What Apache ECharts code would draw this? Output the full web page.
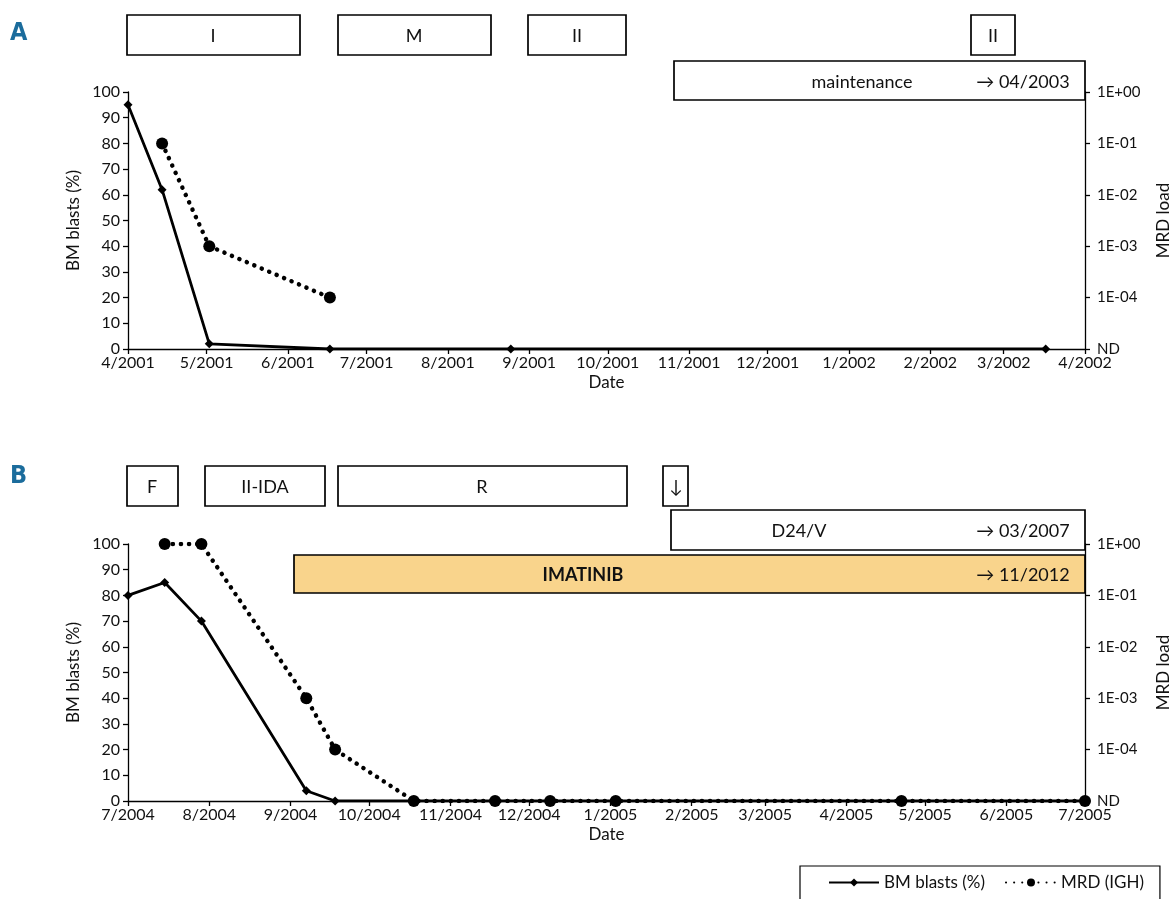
<!DOCTYPE html>
<html>
<head>
<meta charset="utf-8">
<script src="https://cdn.jsdelivr.net/npm/echarts@6/dist/echarts.min.js"></script>
<style>
html,body{margin:0;padding:0;background:#fff;}
#chart{width:1174px;height:899px;}
</style>
</head>
<body>
<div id="chart"></div>
<script>
// ---------- DATA ----------
const tickLabelsA = ['4/2001','5/2001','6/2001','7/2001','8/2001','9/2001','10/2001','11/2001','12/2001','1/2002','2/2002','3/2002','4/2002'];
const tickLabelsB = ['7/2004','8/2004','9/2004','10/2004','11/2004','12/2004','1/2005','2/2005','3/2005','4/2005','5/2005','6/2005','7/2005'];
const mrdTickLabels = ['ND','1E-04','1E-03','1E-02','1E-01','1E+00'];

const datesBlastsA = ['2001-04-01','2001-04-14','2001-05-02','2001-06-17','2001-08-25','2002-03-17'];
const blastsA = [95, 62, 2, 0, 0, 0];
const datesMrdA = ['2001-04-14','2001-05-02','2001-06-17'];
const mrdA = ['1E-01','1E-03','1E-04'];

const datesBlastsB = ['2004-07-01','2004-07-15','2004-07-29','2004-09-07','2004-09-18','2004-10-18','2004-11-18','2004-12-09','2005-01-03','2005-04-22','2005-07-01'];
const blastsB = [80, 85, 70, 4, 0, 0, 0, 0, 0, 0, 0];
const datesMrdB = ['2004-07-15','2004-07-29','2004-09-07','2004-09-18','2004-10-18','2004-11-18','2004-12-09','2005-01-03','2005-04-22','2005-07-01'];
const mrdB = ['1E+00','1E+00','1E-03','1E-04','ND','ND','ND','ND','ND','ND'];

const seriesNames = ['BM blasts (%)', 'MRD (IGH)'];

// ---------- HELPERS ----------
const DAY = 86400000;
function dt(s){ const p = s.split('-').map(Number); return Date.UTC(p[0], p[1]-1, p[2]) / DAY; }
function monthTick(s){ const p = s.split('/').map(Number); return Date.UTC(p[1], p[0]-1, 1) / DAY; }
function mrdLevel(s){ return s === 'ND' ? 0 : mrdTickLabels.indexOf(s); }

const FONT = 'Lato';
const ticksA = tickLabelsA.map(monthTick);
const ticksB = tickLabelsB.map(monthTick);

function xAxis(gridIndex, ticks, labels){
  return {
    type: 'value', gridIndex: gridIndex,
    min: ticks[0], max: ticks[ticks.length-1],
    name: 'Date', nameLocation: 'middle', nameGap: 25, nameMoveOverlap: false,
    nameTextStyle: {fontFamily: FONT, fontSize: 17, color: '#111'},
    axisLine: {show: true, onZero: false, lineStyle: {color: '#000', width: 1.3}},
    axisTick: {show: true, length: 5, customValues: ticks, lineStyle: {color: '#000', width: 1.3}},
    axisLabel: {customValues: ticks, formatter: v => labels[ticks.indexOf(v)] || '', fontFamily: FONT, fontSize: 16, color: '#111', margin: 6, showMinLabel: true, showMaxLabel: true},
    splitLine: {show: false}
  };
}
function yLeft(gridIndex){
  return {
    type: 'value', gridIndex: gridIndex, position: 'left', min: 0, max: 100, interval: 10,
    name: 'BM blasts (%)', nameLocation: 'middle', nameGap: 46, nameRotate: 90, nameMoveOverlap: false,
    nameTextStyle: {fontFamily: FONT, fontSize: 17, color: '#111'},
    axisLine: {show: true, lineStyle: {color: '#000', width: 1.3}},
    axisTick: {show: true, length: 5, lineStyle: {color: '#000', width: 1.3}},
    axisLabel: {fontFamily: FONT, fontSize: 16, color: '#111', margin: 8},
    splitLine: {show: false}
  };
}
function yRight(gridIndex){
  return {
    type: 'value', gridIndex: gridIndex, position: 'right', min: 0, max: 5, interval: 1,
    name: 'MRD load', nameLocation: 'middle', nameGap: 70, nameRotate: 90, nameMoveOverlap: false,
    nameTextStyle: {fontFamily: FONT, fontSize: 17, color: '#111'},
    axisLine: {show: true, lineStyle: {color: '#000', width: 1.3}},
    axisTick: {show: true, length: 5, lineStyle: {color: '#000', width: 1.3}},
    axisLabel: {fontFamily: FONT, fontSize: 15, color: '#111', margin: 12, formatter: v => mrdTickLabels[v]},
    splitLine: {show: false}
  };
}
function blastSeries(xi, yi, dates, vals){
  return {
    name: seriesNames[0], type: 'line', xAxisIndex: xi, yAxisIndex: yi,
    data: dates.map((d, i) => [dt(d), vals[i]]),
    symbol: 'diamond', symbolSize: 9, showSymbol: true,
    lineStyle: {color: '#000', width: 2.8},
    itemStyle: {color: '#000'}, z: 3, animation: false
  };
}
function mrdSeries(xi, yi, dates, vals){
  return {
    name: seriesNames[1], type: 'line', xAxisIndex: xi, yAxisIndex: yi,
    data: dates.map((d, i) => [dt(d), mrdLevel(vals[i])]),
    symbol: 'circle', symbolSize: 12, showSymbol: true,
    lineStyle: {color: '#000', width: 4.5, type: [0.1, 8], cap: 'round'},
    itemStyle: {color: '#000'}, z: 4, animation: false
  };
}

// ---------- ANNOTATION BOXES ----------
function box(x, y, w, h, fill){
  return {type: 'rect', shape: {x: x, y: y, width: w, height: h}, style: {fill: fill || '#fff', stroke: '#000', lineWidth: 1.7}, z: 10};
}
function txt(x, y, s, bold, align){
  return {type: 'text', x: x, y: y, style: {text: s, fill: '#111', font: (bold ? 'bold ' : '') + '18px ' + FONT, align: align || 'center', verticalAlign: 'middle'}, z: 11};
}
const graphics = [
  {type: 'text', x: 10, y: 33, style: {text: 'A', fill: '#1b6c9c', font: 'bold 25px "Liberation Sans Narrow", "DejaVu Sans Condensed", sans-serif', verticalAlign: 'middle'}},
  {type: 'text', x: 10, y: 476, style: {text: 'B', fill: '#1b6c9c', font: 'bold 25px "Liberation Sans Narrow", "DejaVu Sans Condensed", sans-serif', verticalAlign: 'middle'}},
  // Panel A
  box(127, 15, 173, 40), txt(213, 36, 'I'),
  box(338, 15, 153, 40), txt(414, 36, 'M'),
  box(528, 15, 98, 40), txt(577, 36, 'II'),
  box(971, 15, 44, 40), txt(993, 36, 'II'),
  box(674, 61, 411, 39), txt(862, 82, 'maintenance'), txt(1023, 82, '\u2192 04/2003'),
  // Panel B
  box(127, 466, 51, 40), txt(152, 487, 'F'),
  box(205, 466, 120, 40), txt(265, 487, 'II-IDA'),
  box(338, 466, 289, 40), txt(482, 487, 'R'),
  box(663, 466, 25, 40), txt(676, 487, '\u2193'),
  box(671, 510, 414, 40), txt(799, 531, 'D24/V'), txt(1023, 531, '\u2192 03/2007'),
  box(294, 555, 791, 38, '#F9D48C'), txt(583, 575, 'IMATINIB', true), txt(1023, 575, '\u2192 11/2012')
];

// ---------- CHART ----------
const chart = echarts.init(document.getElementById('chart'), null, {renderer: 'canvas'});
chart.setOption({
  backgroundColor: '#fff',
  animation: false,
  textStyle: {fontFamily: FONT},
  grid: [
    {left: 128, right: 89, top: 92, height: 257, containLabel: false, outerBoundsMode: 'none'},
    {left: 128, right: 89, top: 544, height: 257, containLabel: false, outerBoundsMode: 'none'}
  ],
  xAxis: [xAxis(0, ticksA, tickLabelsA), xAxis(1, ticksB, tickLabelsB)],
  yAxis: [yLeft(0), yRight(0), yLeft(1), yRight(1)],
  legend: {
    data: seriesNames, left: 800, top: 866, orient: 'horizontal',
    borderColor: '#000', borderWidth: 1.2, padding: [8, 16, 20, 28],
    itemWidth: 50, itemHeight: 10, itemGap: 20,
    textStyle: {fontFamily: FONT, fontSize: 17, color: '#111'}
  },
  series: [
    blastSeries(0, 0, datesBlastsA, blastsA),
    mrdSeries(0, 1, datesMrdA, mrdA),
    blastSeries(1, 2, datesBlastsB, blastsB),
    mrdSeries(1, 3, datesMrdB, mrdB)
  ],
  graphic: graphics
});
</script>
</body>
</html>
